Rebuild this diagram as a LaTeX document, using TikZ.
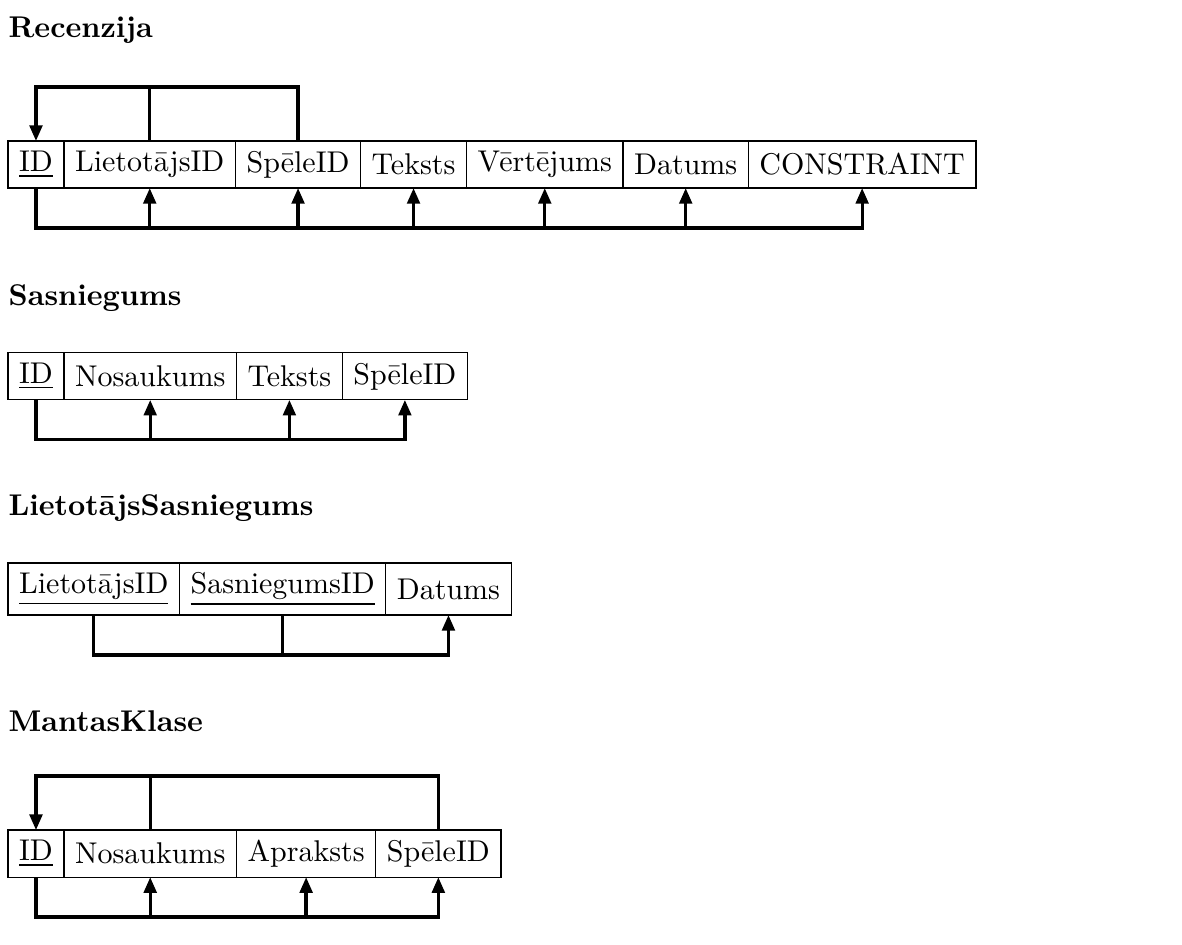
\documentclass[tikz,border=0pt]{standalone}
\usepackage{tikz}
\usetikzlibrary{arrows.meta, positioning}

\begin{document}
\begin{tikzpicture}[
    fld/.style={draw, minimum height=15.7pt, inner xsep=3.7pt, inner ysep=3pt, outer sep=0pt},
    keyfld/.style={draw, minimum height=17.3pt, inner xsep=3.7pt, inner ysep=3pt, outer sep=0pt},
    ttl/.style={anchor=base west, inner sep=0pt, font=\bfseries},
    arr/.style={-{Triangle[length=5.2pt, width=4.2pt]}, line width=1.1pt},
    ln/.style={line width=1.1pt},
]
    \useasboundingbox (0,0) rectangle (394pt,-315pt);

    % Recenzija
    \node[ttl] (t1) at (2.67pt,-12.4pt) {Recenzija};
    \node[fld, anchor=north west] (rid) at (2.67pt,-47pt) {\underline{ID}};
    \node[fld, right=0pt of rid] (rlid) {LietotājsID};
    \node[fld, right=0pt of rlid] (rspid) {SpēleID};
    \node[fld, right=0pt of rspid] (rtek) {Teksts};
    \node[fld, right=0pt of rtek] (rvert) {Vērtējums};
    \node[fld, right=0pt of rvert] (rdat) {Datums};
    \node[fld, right=0pt of rdat] (rcon) {CONSTRAINT};

    \coordinate (rtop) at ([yshift=18pt]rid.north);
    \coordinate (rbot) at ([yshift=-13.3pt]rid.south);
    \draw[arr] (rspid.north) |- (rtop) -- (rid.north);
    \draw[ln] (rlid.north) -- (rlid.north |- rtop);
    \draw[arr] (rid.south) -- (rbot) -| (rcon.south);
    \draw[arr] (rbot -| rlid.south) -- (rlid.south);
    \draw[arr] (rbot -| rspid.south) -- (rspid.south);
    \draw[arr] (rbot -| rtek.south) -- (rtek.south);
    \draw[arr] (rbot -| rvert.south) -- (rvert.south);
    \draw[arr] (rbot -| rdat.south) -- (rdat.south);

    % Sasniegums
    \node[ttl] (t2) at (2.67pt,-102pt) {Sasniegums};
    \node[fld, anchor=north west] (sid) at (2.67pt,-117.6pt) {\underline{ID}};
    \node[fld, right=0pt of sid] (snos) {Nosaukums};
    \node[fld, right=0pt of snos] (stek) {Teksts};
    \node[fld, right=0pt of stek] (sspid) {SpēleID};

    \coordinate (sbot) at ([yshift=-13.3pt]sid.south);
    \draw[arr] (sid.south) -- (sbot) -| (sspid.south);
    \draw[arr] (sbot -| snos.south) -- (snos.south);
    \draw[arr] (sbot -| stek.south) -- (stek.south);

    % LietotajsSasniegums
    \node[ttl] (t3) at (2.67pt,-172pt) {LietotājsSasniegums};
    \node[keyfld, anchor=north west] (llid) at (2.67pt,-187.7pt) {\underline{LietotājsID}};
    \node[keyfld, right=0pt of llid] (lsid) {\underline{SasniegumsID}};
    \node[keyfld, right=0pt of lsid] (ldat) {Datums};

    \coordinate (lbot) at ([yshift=-13.3pt]llid.south);
    \draw[arr] (llid.south) -- (lbot) -| (ldat.south);
    \draw[ln] (lsid.south) -- (lsid.south |- lbot);

    % MantasKlase
    \node[ttl] (t4) at (2.67pt,-244pt) {MantasKlase};
    \node[fld, anchor=north west] (mid) at (2.67pt,-276.7pt) {\underline{ID}};
    \node[fld, right=0pt of mid] (mnos) {Nosaukums};
    \node[fld, right=0pt of mnos] (mapr) {Apraksts};
    \node[fld, right=0pt of mapr] (mspid) {SpēleID};

    \coordinate (mtop) at ([yshift=18pt]mid.north);
    \coordinate (mbot) at ([yshift=-13.3pt]mid.south);
    \draw[arr] (mspid.north) |- (mtop) -- (mid.north);
    \draw[ln] (mnos.north) -- (mnos.north |- mtop);
    \draw[arr] (mid.south) -- (mbot) -| (mspid.south);
    \draw[arr] (mbot -| mnos.south) -- (mnos.south);
    \draw[arr] (mbot -| mapr.south) -- (mapr.south);
\end{tikzpicture}
\end{document}
